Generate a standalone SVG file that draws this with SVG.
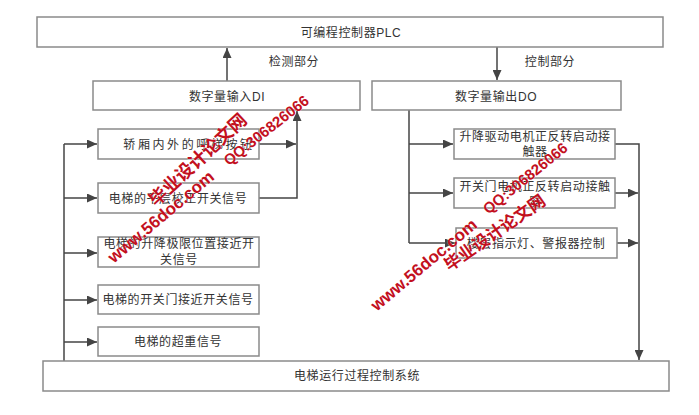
<svg xmlns="http://www.w3.org/2000/svg" width="699" height="415" viewBox="0 0 699 415">
<style>
.box{fill:#fff;stroke:#8a8a8a;stroke-width:1.5}
.t{font-family:"Liberation Sans","Noto Sans CJK SC",sans-serif;font-size:12px;fill:#333;text-anchor:middle;dominant-baseline:central;letter-spacing:0.6px}
.c{fill:none;stroke:#444;stroke-width:1.5}
.wm{font-family:"Liberation Sans","Noto Sans CJK SC",sans-serif;font-weight:bold;fill:#c3101e;text-anchor:middle;dominant-baseline:central;stroke:#fff;stroke-width:0.4;paint-order:stroke}
</style>
<defs>
<marker id="ah" markerUnits="userSpaceOnUse" markerWidth="11" markerHeight="9" refX="10" refY="4.5" orient="auto">
<path d="M0,0 L10,4.5 L0,9 z" fill="#444"/>
</marker>
</defs>
<rect width="699" height="415" fill="#fff"/>
<g id="connectors">
<line class="c" x1="227" y1="81" x2="227" y2="48" marker-end="url(#ah)"/>
<line class="c" x1="497" y1="47" x2="497" y2="80" marker-end="url(#ah)"/>
<line class="c" x1="64" y1="144" x2="64" y2="361"/>
<line class="c" x1="64" y1="144" x2="97" y2="144" marker-end="url(#ah)"/>
<line class="c" x1="64" y1="198" x2="97" y2="198" marker-end="url(#ah)"/>
<line class="c" x1="64" y1="253" x2="97" y2="253" marker-end="url(#ah)"/>
<line class="c" x1="64" y1="300" x2="97" y2="300" marker-end="url(#ah)"/>
<line class="c" x1="64" y1="342" x2="97" y2="342" marker-end="url(#ah)"/>
<line class="c" x1="259" y1="144" x2="296" y2="144" marker-end="url(#ah)"/>
<path class="c" d="M259,198 H297 V111" marker-end="url(#ah)"/>
<line class="c" x1="409" y1="110" x2="409" y2="243"/>
<line class="c" x1="409" y1="144" x2="453" y2="144" marker-end="url(#ah)"/>
<line class="c" x1="409" y1="193" x2="453" y2="193" marker-end="url(#ah)"/>
<line class="c" x1="409" y1="243" x2="455" y2="243" marker-end="url(#ah)"/>
<path class="c" d="M615,144 H639 V360" marker-end="url(#ah)"/>
<line class="c" x1="615" y1="193" x2="638" y2="193" marker-end="url(#ah)"/>
<line class="c" x1="617" y1="243" x2="638" y2="243" marker-end="url(#ah)"/>
</g>
<g id="labels">
<text class="t" x="294" y="62">检测部分</text>
<text class="t" x="550" y="62">控制部分</text>
</g>
<g id="plc"><rect class="box" x="37" y="17" width="626" height="30"/><text class="t" x="351" y="33">可编程控制器PLC</text></g>
<g id="di"><rect class="box" x="93" y="81" width="267" height="29"/><text class="t" x="227" y="97">数字量输入DI</text></g>
<g id="do"><rect class="box" x="372" y="81" width="249" height="29"/><text class="t" x="496" y="97">数字量输出DO</text></g>
<g id="in1"><rect class="box" x="98" y="129" width="161" height="30"/><text class="t" x="189" y="145" style="letter-spacing:2.6px">轿厢内外的呼梯按钮</text></g>
<g id="in2"><rect class="box" x="98" y="183" width="161" height="30"/><text class="t" x="178" y="199">电梯的平层校正开关信号</text></g>
<g id="in3"><rect class="box" x="98" y="237" width="161" height="30"/><text class="t" x="179" y="244">电梯的升降极限位置接近开</text><text class="t" x="179" y="260">关信号</text></g>
<g id="in4"><rect class="box" x="98" y="285" width="161" height="29"/><text class="t" x="178" y="300">电梯的开关门接近开关信号</text></g>
<g id="in5"><rect class="box" x="98" y="327" width="161" height="29"/><text class="t" x="178" y="342">电梯的超重信号</text></g>
<g id="out1"><rect class="box" x="454" y="129" width="161" height="30"/><text class="t" x="535" y="137">升降驱动电机正反转启动接</text><text class="t" x="535" y="152">触器</text></g>
<g id="out2"><rect class="box" x="454" y="178" width="161" height="30"/><text class="t" x="535" y="187">开关门电机正反转启动接触</text><text class="t" x="535" y="202">器</text></g>
<g id="out3"><rect class="box" x="456" y="228" width="161" height="30"/><text class="t" x="536" y="244">楼层指示灯、警报器控制</text></g>
<g id="bottom"><rect class="box" x="43" y="361" width="626" height="30"/><text class="t" x="357" y="376">电梯运行过程控制系统</text></g>
<g id="watermarks">
<text class="wm" font-size="15" transform="translate(266,130) rotate(-38)">QQ:306826066</text>
<text class="wm" font-size="18" transform="translate(198,160) rotate(-43)">毕业设计论文网</text>
<text class="wm" font-size="17" transform="translate(161,217) rotate(-40)">www.56doc.com</text>
<text class="wm" font-size="15" transform="translate(525,178) rotate(-39)">QQ:306826066</text>
<text class="wm" font-size="17" transform="translate(495,233) rotate(-35)">毕业设计论文网</text>
<text class="wm" font-size="17" transform="translate(424,265) rotate(-40)">www.56doc.com</text>
</g>
</svg>
